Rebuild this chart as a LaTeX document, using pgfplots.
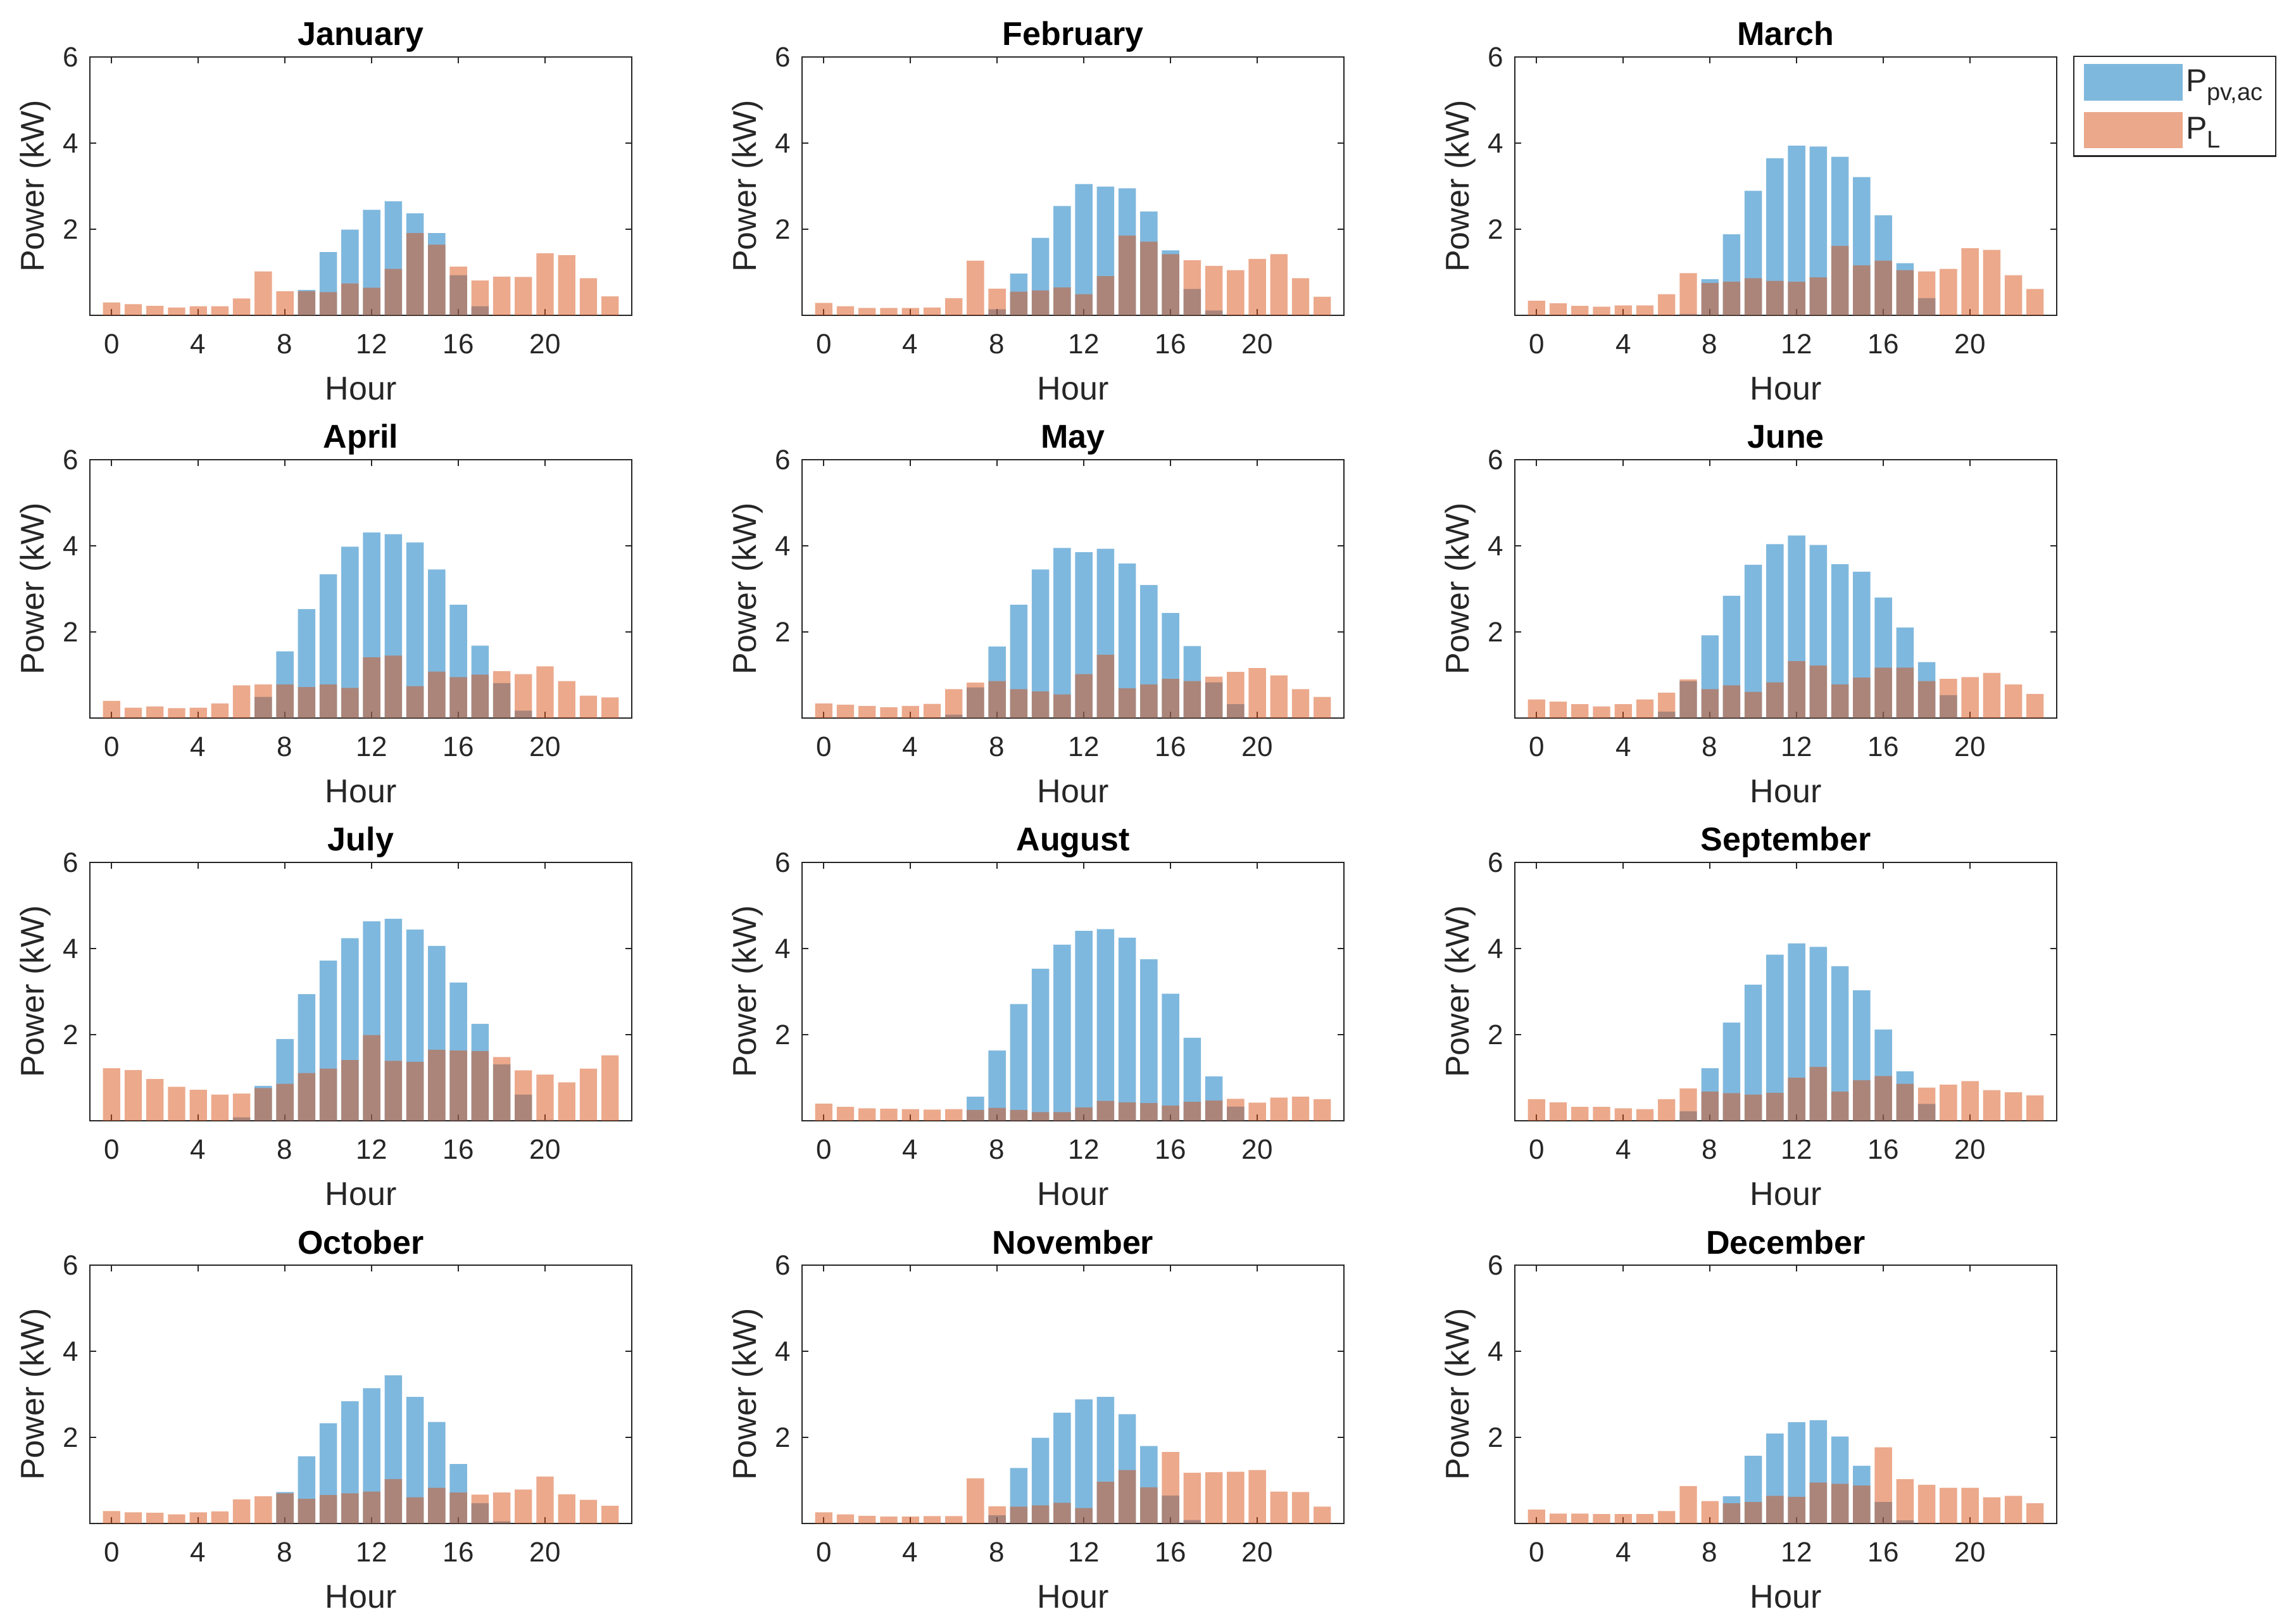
\documentclass[border=0pt]{standalone}
\usepackage{fontspec}
\setmainfont{Liberation Sans}
\usepackage{pgfplots}
\usepackage{pgfplotstable}
\pgfplotsset{compat=1.18}
\definecolor{pvblue}{rgb}{0,0.447,0.741}
\definecolor{plorange}{rgb}{0.850,0.325,0.098}
\definecolor{axgray}{rgb}{0.15,0.15,0.15}

\pgfplotstableread{
h pv L
0 0 0.30
1 0 0.26
2 0 0.22
3 0 0.18
4 0 0.21
5 0 0.21
6 0 0.39
7 0 1.02
8 0 0.56
9 0.59 0.56
10 1.47 0.54
11 1.99 0.74
12 2.45 0.64
13 2.65 1.08
14 2.37 1.91
15 1.91 1.64
16 0.93 1.13
17 0.21 0.81
18 0 0.90
19 0 0.89
20 0 1.44
21 0 1.40
22 0 0.86
23 0 0.44
}\tJan
\pgfplotstableread{
h pv L
0 0 0.29
1 0 0.21
2 0 0.17
3 0 0.17
4 0 0.17
5 0 0.18
6 0 0.40
7 0 1.27
8 0.14 0.62
9 0.97 0.55
10 1.80 0.58
11 2.54 0.65
12 3.05 0.49
13 2.99 0.91
14 2.95 1.85
15 2.41 1.71
16 1.51 1.42
17 0.61 1.28
18 0.11 1.15
19 0 1.05
20 0 1.31
21 0 1.42
22 0 0.86
23 0 0.43
}\tFeb
\pgfplotstableread{
h pv L
0 0 0.34
1 0 0.28
2 0 0.22
3 0 0.20
4 0 0.23
5 0 0.23
6 0 0.49
7 0.03 0.98
8 0.84 0.75
9 1.88 0.78
10 2.89 0.86
11 3.65 0.80
12 3.94 0.78
13 3.92 0.88
14 3.68 1.61
15 3.21 1.16
16 2.32 1.27
17 1.21 1.05
18 0.40 1.02
19 0 1.08
20 0 1.56
21 0 1.52
22 0 0.93
23 0 0.61
}\tMar
\pgfplotstableread{
h pv L
0 0 0.40
1 0 0.24
2 0 0.27
3 0 0.23
4 0 0.24
5 0 0.34
6 0 0.76
7 0.49 0.78
8 1.55 0.78
9 2.53 0.72
10 3.34 0.78
11 3.98 0.70
12 4.31 1.41
13 4.27 1.45
14 4.08 0.74
15 3.45 1.08
16 2.63 0.95
17 1.68 1.01
18 0.81 1.09
19 0.17 1.02
20 0 1.20
21 0 0.86
22 0 0.52
23 0 0.48
}\tApr
\pgfplotstableread{
h pv L
0 0 0.34
1 0 0.31
2 0 0.28
3 0 0.25
4 0 0.28
5 0 0.33
6 0.08 0.67
7 0.71 0.82
8 1.66 0.86
9 2.63 0.67
10 3.45 0.62
11 3.95 0.55
12 3.85 1.02
13 3.93 1.47
14 3.59 0.69
15 3.09 0.78
16 2.44 0.91
17 1.67 0.86
18 0.83 0.96
19 0.32 1.07
20 0 1.16
21 0 0.99
22 0 0.67
23 0 0.49
}\tMay
\pgfplotstableread{
h pv L
0 0 0.43
1 0 0.38
2 0 0.32
3 0 0.27
4 0 0.32
5 0 0.43
6 0.15 0.59
7 0.86 0.90
8 1.92 0.67
9 2.84 0.76
10 3.56 0.61
11 4.04 0.83
12 4.24 1.32
13 4.02 1.22
14 3.57 0.78
15 3.40 0.94
16 2.80 1.17
17 2.10 1.17
18 1.30 0.86
19 0.53 0.91
20 0 0.95
21 0 1.05
22 0 0.78
23 0 0.56
}\tJun
\pgfplotstableread{
h pv L
0 0 1.22
1 0 1.18
2 0 0.97
3 0 0.79
4 0 0.72
5 0 0.61
6 0.08 0.63
7 0.81 0.76
8 1.90 0.86
9 2.94 1.11
10 3.72 1.21
11 4.24 1.41
12 4.63 1.99
13 4.69 1.39
14 4.44 1.37
15 4.06 1.65
16 3.21 1.63
17 2.25 1.62
18 1.31 1.48
19 0.61 1.17
20 0.02 1.07
21 0 0.89
22 0 1.21
23 0 1.52
}\tJul
\pgfplotstableread{
h pv L
0 0 0.40
1 0 0.32
2 0 0.29
3 0 0.28
4 0 0.27
5 0 0.26
6 0 0.27
7 0.56 0.25
8 1.63 0.30
9 2.71 0.25
10 3.53 0.20
11 4.09 0.20
12 4.41 0.31
13 4.45 0.46
14 4.25 0.43
15 3.75 0.41
16 2.95 0.35
17 1.93 0.44
18 1.03 0.47
19 0.33 0.51
20 0 0.42
21 0 0.54
22 0 0.56
23 0 0.50
}\tAug
\pgfplotstableread{
h pv L
0 0 0.50
1 0 0.43
2 0 0.32
3 0 0.32
4 0 0.29
5 0 0.27
6 0 0.50
7 0.22 0.75
8 1.22 0.68
9 2.28 0.64
10 3.16 0.61
11 3.86 0.65
12 4.12 1.00
13 4.04 1.25
14 3.59 0.68
15 3.03 0.94
16 2.12 1.04
17 1.15 0.86
18 0.39 0.77
19 0 0.84
20 0 0.92
21 0 0.71
22 0 0.66
23 0 0.59
}\tSep
\pgfplotstableread{
h pv L
0 0 0.29
1 0 0.26
2 0 0.25
3 0 0.21
4 0 0.26
5 0 0.28
6 0 0.56
7 0 0.63
8 0.73 0.70
9 1.56 0.57
10 2.33 0.66
11 2.84 0.70
12 3.14 0.74
13 3.44 1.03
14 2.94 0.61
15 2.36 0.83
16 1.38 0.72
17 0.47 0.67
18 0.05 0.72
19 0 0.79
20 0 1.09
21 0 0.68
22 0 0.55
23 0 0.41
}\tOct
\pgfplotstableread{
h pv L
0 0 0.26
1 0 0.21
2 0 0.18
3 0 0.16
4 0 0.16
5 0 0.17
6 0 0.17
7 0 1.05
8 0.19 0.40
9 1.29 0.39
10 1.99 0.42
11 2.57 0.48
12 2.88 0.36
13 2.94 0.97
14 2.54 1.24
15 1.80 0.84
16 0.65 1.66
17 0.08 1.18
18 0 1.19
19 0 1.20
20 0 1.24
21 0 0.74
22 0 0.73
23 0 0.39
}\tNov
\pgfplotstableread{
h pv L
0 0 0.32
1 0 0.23
2 0 0.23
3 0 0.22
4 0 0.22
5 0 0.22
6 0 0.29
7 0 0.87
8 0 0.52
9 0.63 0.47
10 1.57 0.50
11 2.09 0.64
12 2.35 0.62
13 2.40 0.95
14 2.02 0.92
15 1.34 0.88
16 0.50 1.77
17 0.07 1.03
18 0 0.90
19 0 0.83
20 0 0.83
21 0 0.61
22 0 0.64
23 0 0.47
}\tDec

\pgfplotsset{
  mon/.style={
    width=214pt, height=102pt, scale only axis,
    xmin=-1, xmax=24, ymin=0, ymax=6,
    xtick={0,4,...,20}, ytick={2,4,6},
    ybar, bar width=0.8,
    tick align=inside, major tick length=2.5pt,
    axis line style={line width=0.6pt, axgray},
    every tick/.style={axgray, line width=0.6pt},
    tick label style={font=\fontsize{11}{13}\selectfont, text=axgray},
    xticklabel style={yshift=-4pt},
    yticklabel style={xshift=-1pt},
    every axis title/.style={at={(0.5,1)}, anchor=base, yshift=4.5pt,
      font=\bfseries\fontsize{13}{15}\selectfont},
    label style={font=\fontsize{13}{15}\selectfont, text=axgray},
    xlabel={Hour}, ylabel={Power (kW)},
    xlabel style={at={(axis description cs:0.5,-0.285)}, anchor=center},
    ylabel style={at={(axis description cs:-0.1,0.5)}, anchor=center},
    /pgf/number format/assume math mode=true,
    anchor=south west,
  },
  pvs/.style={fill=pvblue, fill opacity=0.5, draw=none, bar shift=0pt,
    legend image code/.code={\fill[pvblue, fill opacity=0.5] (0pt,-7.2pt) rectangle (39pt,7.2pt);}},
  pls/.style={fill=plorange, fill opacity=0.5, draw=none, bar shift=0pt,
    legend image code/.code={\fill[plorange, fill opacity=0.5] (0pt,-7.2pt) rectangle (39pt,7.2pt);}},
}

\newcommand{\monthplot}[4]{%
  \begin{axis}[mon, at={(#1,#2)}, title={#3}]
    \addplot[pvs] table[x=h,y=pv]{#4};
    \addplot[pls] table[x=h,y=L]{#4};
  \end{axis}}
\newcommand{\sub}[1]{\raisebox{-3.5pt}{\fontsize{9.5}{10}\selectfont #1}}

\begin{document}
\begin{tikzpicture}
\useasboundingbox (0,0) rectangle (906.75pt,639.75pt);
\monthplot{35.5pt}{515.25pt}{January}{\tJan}
\monthplot{316.75pt}{515.25pt}{February}{\tFeb}
\begin{axis}[mon, at={(598.25pt,515.25pt)}, title={March},
  legend style={at={(1,1)}, anchor=north west, xshift=6.5pt, yshift=0.5pt,
    draw=axgray, line width=0.6pt, font=\fontsize{12.5}{14}\selectfont,
    inner xsep=4pt, inner ysep=3pt, row sep=4.5pt, legend cell align=left,
    nodes={inner sep=1.2pt, text=axgray},
    /tikz/every even column/.append style={column sep=0pt}}]
  \addplot[pvs] table[x=h,y=pv]{\tMar};
  \addlegendentry{P\sub{pv,ac}}
  \addplot[pls] table[x=h,y=L]{\tMar};
  \addlegendentry{P\sub{L}}
\end{axis}
\monthplot{35.5pt}{356.25pt}{April}{\tApr}
\monthplot{316.75pt}{356.25pt}{May}{\tMay}
\monthplot{598.25pt}{356.25pt}{June}{\tJun}
\monthplot{35.5pt}{197.25pt}{July}{\tJul}
\monthplot{316.75pt}{197.25pt}{August}{\tAug}
\monthplot{598.25pt}{197.25pt}{September}{\tSep}
\monthplot{35.5pt}{38.25pt}{October}{\tOct}
\monthplot{316.75pt}{38.25pt}{November}{\tNov}
\monthplot{598.25pt}{38.25pt}{December}{\tDec}
\end{tikzpicture}
\end{document}
